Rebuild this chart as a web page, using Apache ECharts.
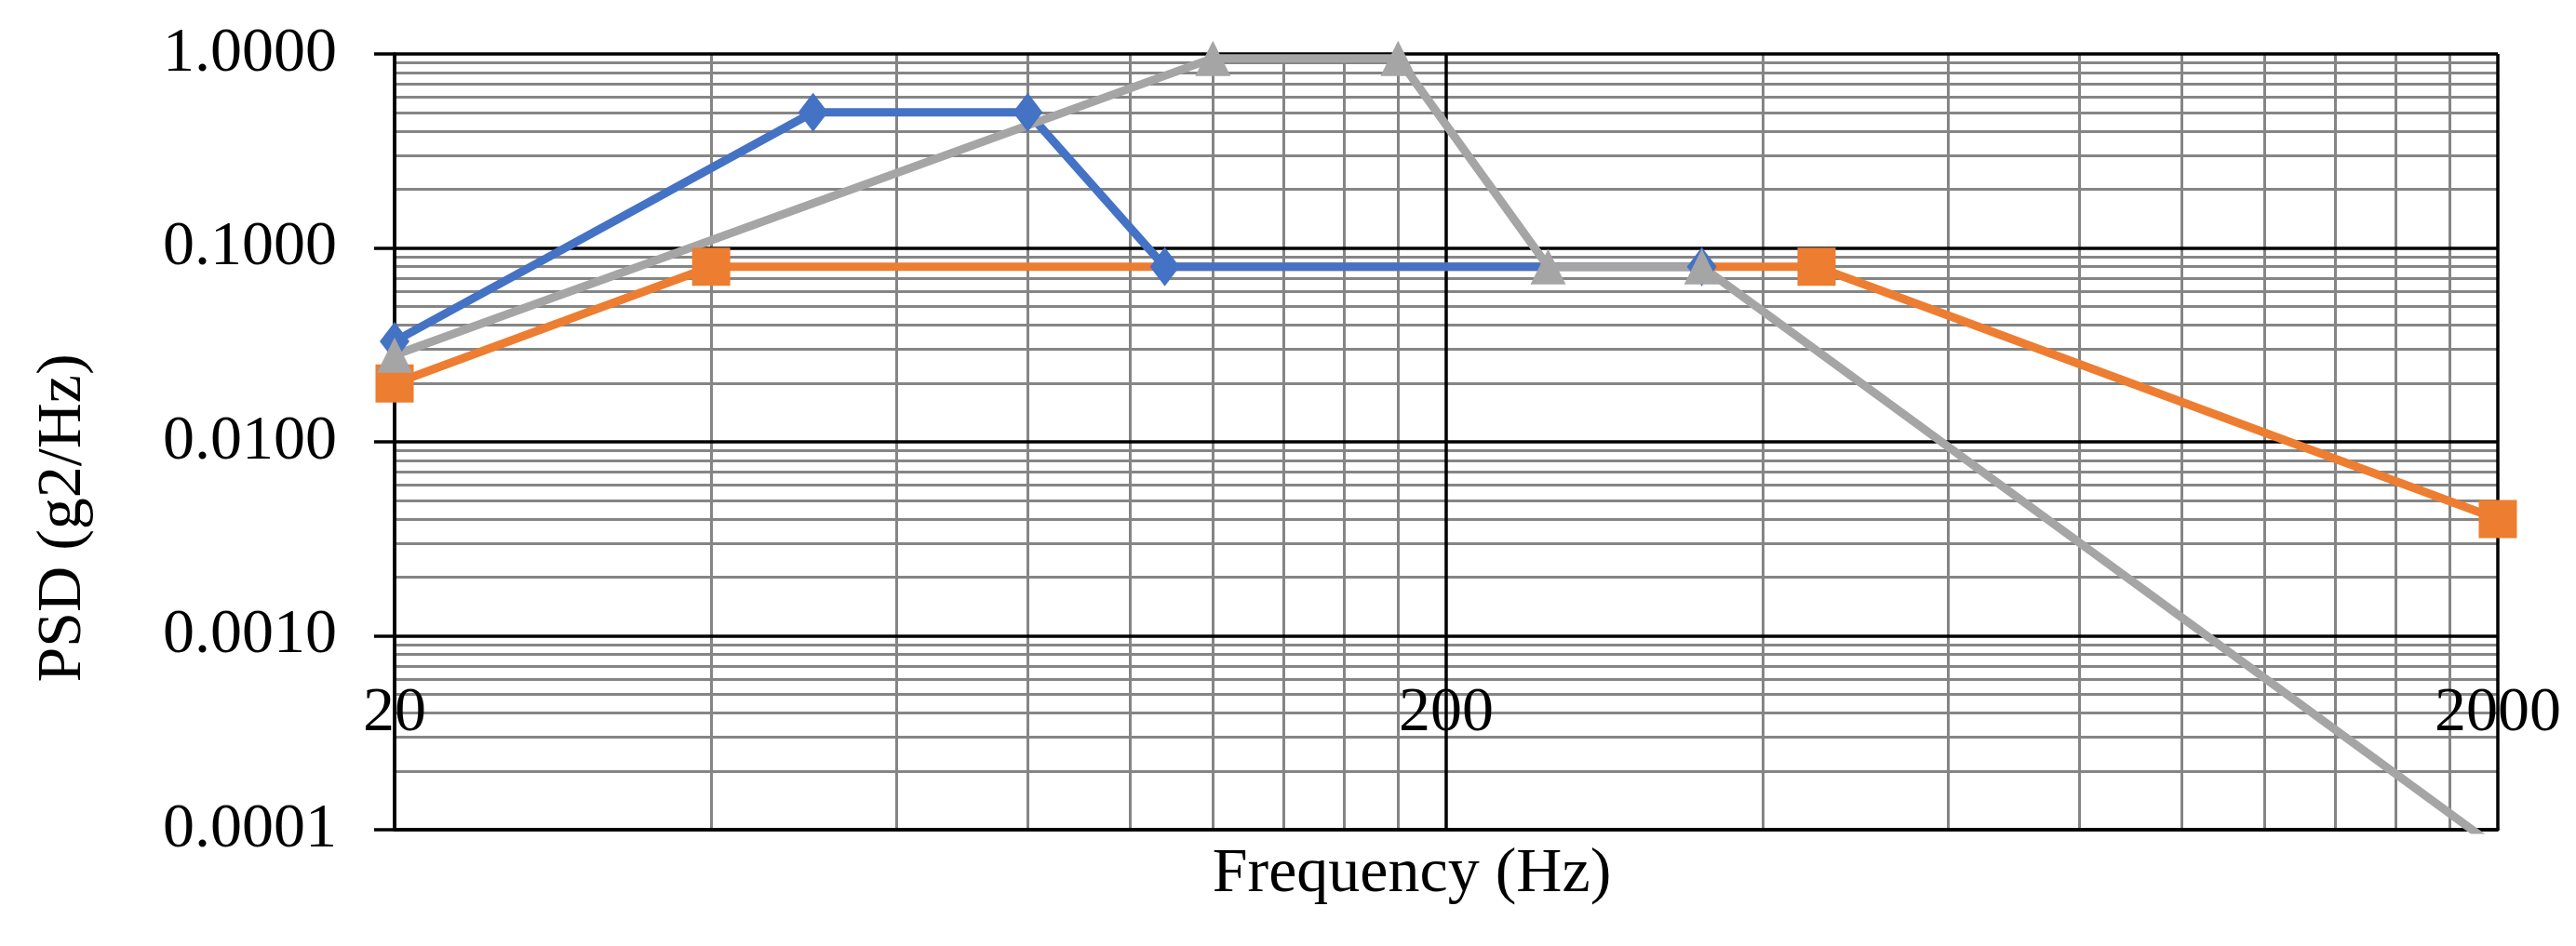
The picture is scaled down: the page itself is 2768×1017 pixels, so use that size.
<!DOCTYPE html>
<html>
<head>
<meta charset="utf-8">
<script src="https://cdn.jsdelivr.net/npm/echarts@6/dist/echarts.min.js"></script>
<style>
  html, body { margin: 0; padding: 0; background: #fff; }
  #chart { width: 2768px; height: 1017px; }
</style>
</head>
<body>
<div id="chart"></div>
<script>
// PSD profiles
const freqBlue = [20, 50, 80, 108, 350];
const psdBlue = [0.033, 0.5, 0.5, 0.08, 0.08];
const freqOrange = [20, 40, 450, 2000];
const psdOrange = [0.02, 0.08, 0.08, 0.004];
const freqGray = [20, 120, 180, 250, 350, 2000];
const psdGray = [0.028, 0.95, 0.95, 0.08, 0.08, 0.00008];

// axis ticks
const xMajor = [20, 200, 2000];
const yMajor = [0.0001, 0.001, 0.01, 0.1, 1];

const font = "'Liberation Serif', 'Times New Roman', serif";

// minor grid: 2..9 times each major step
function minorsOf(majors) {
  let out = [];
  for (let i = 0; i < majors.length - 1; i++) {
    for (let k = 2; k <= 9; k++) out.push(+(majors[i] * k).toPrecision(6));
  }
  return out;
}

function pairs(xs, ys) {
  return xs.map(function (x, i) { return [x, ys[i]]; });
}

let myChart = echarts.init(document.getElementById("chart"));

let lineSeries = function (name, xs, ys, color, symbol, size) {
  return {
    name: name,
    type: "line",
    xAxisIndex: 0,
    yAxisIndex: 0,
    data: pairs(xs, ys),
    symbol: symbol,
    symbolSize: size,
    showAllSymbol: true,
    clip: true,
    z: 5,
    lineStyle: { color: color, width: 9, join: "round", cap: "round" },
    itemStyle: { color: color },
    emphasis: { disabled: true }
  };
};

let option = {
  animation: false,
  backgroundColor: "#fff",
  grid: { left: 424, right: 84, top: 58, bottom: 125, containLabel: false },
  xAxis: [
    {
      type: "log",
      logBase: 10,
      min: 20,
      max: 2000,
      z: 2,
      name: "Frequency (Hz)",
      nameLocation: "middle",
      nameGap: 14,
      nameTextStyle: {
        fontFamily: font,
        fontSize: 68,
        color: "#000",
        verticalAlign: "top",
        padding: [0, 74, 0, 0]
      },
      axisLine: { show: true, lineStyle: { color: "#000", width: 3.5 } },
      axisTick: { show: false, customValues: xMajor },
      axisLabel: {
        customValues: xMajor,
        inside: true,
        margin: 91,
        fontFamily: font,
        fontSize: 68,
        color: "#000",
        formatter: function (v) { return String(Math.round(v)); }
      },
      splitLine: { show: true, lineStyle: { color: "#000", width: 3.5 } }
    },
    {
      type: "log",
      logBase: 10,
      min: 20,
      max: 2000,
      z: 1,
      axisLine: { show: false },
      axisTick: { show: false, customValues: minorsOf(xMajor) },
      axisLabel: { show: false, customValues: minorsOf(xMajor) },
      splitLine: { show: true, lineStyle: { color: "#858585", width: 3 } }
    }
  ],
  yAxis: [
    {
      type: "log",
      logBase: 10,
      min: 0.0001,
      max: 1,
      z: 2,
      name: "PSD (g2/Hz)",
      nameLocation: "middle",
      nameRotate: 90,
      nameGap: 322,
      nameTextStyle: {
        fontFamily: font,
        fontSize: 68,
        color: "#000",
        padding: [0, 164, 0, 0]
      },
      axisLine: { show: true, lineStyle: { color: "#000", width: 3.5 } },
      axisTick: {
        show: true,
        customValues: yMajor,
        length: 22,
        lineStyle: { color: "#000", width: 3.5 }
      },
      axisLabel: {
        customValues: yMajor,
        margin: 62,
        fontFamily: font,
        fontSize: 68,
        color: "#000",
        formatter: function (v) { return v.toFixed(4); }
      },
      splitLine: { show: true, lineStyle: { color: "#000", width: 3.5 } }
    },
    {
      type: "log",
      logBase: 10,
      min: 0.0001,
      max: 1,
      z: 1,
      axisLine: { show: false },
      axisTick: { show: false, customValues: minorsOf(yMajor) },
      axisLabel: { show: false, customValues: minorsOf(yMajor) },
      splitLine: { show: true, lineStyle: { color: "#858585", width: 3 } }
    }
  ],
  series: [
    lineSeries("Orange", freqOrange, psdOrange, "#ED7D31", "rect", 41),
    lineSeries("Blue", freqBlue, psdBlue, "#4472C4", "diamond", [32, 42]),
    lineSeries("Gray", freqGray, psdGray, "#A5A5A5", "triangle", 38)
  ]
};

if (option && typeof option === "object") myChart.setOption(option);
window.addEventListener("resize", function () {
  myChart.resize();
});
</script>
</body>
</html>
